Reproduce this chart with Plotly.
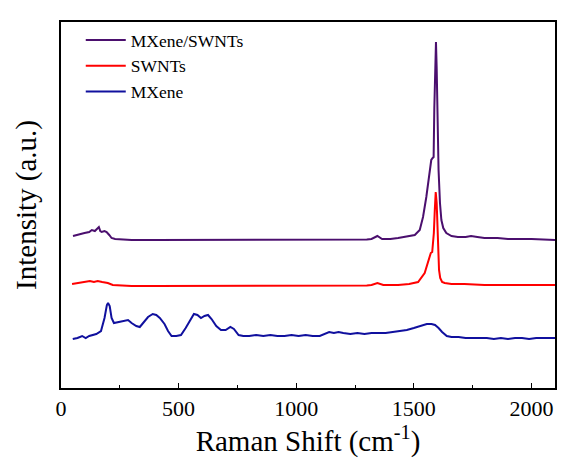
import plotly.graph_objects as go

# Raman shift (cm^-1) and intensities (a.u., stacked with offsets as in the figure)
mx_sw_x = [51, 65, 80, 100, 120, 131, 144, 153, 161, 167, 173, 185, 194, 205, 215, 230, 260, 300,
           400, 500, 600, 700, 800, 900, 1000, 1100, 1200, 1300, 1320, 1345, 1365, 1400, 1433, 1504,
           1525, 1539, 1553, 1567, 1574, 1580, 1584, 1587, 1590, 1594, 1597, 1600, 1605, 1611, 1617,
           1625, 1638, 1660, 1687, 1720, 1743, 1770, 1800, 1856, 1900, 2000, 2100]
mx_sw_y = [152, 153, 154, 155, 156, 158, 157, 159, 161, 157, 156, 157, 156, 153, 150, 149, 148.5, 148,
           148, 148, 148, 148, 148, 148, 148, 148, 148, 148.5, 149, 152, 149, 149, 150, 153,
           158, 171, 191, 218, 228, 230, 231, 280, 330, 346, 320, 268, 218, 185, 168,
           160, 155, 152, 151, 151, 152, 151, 150, 150, 149, 149, 148]

sw_x = [47, 70, 100, 123, 140, 156, 175, 199, 220, 260, 300, 400, 600, 800, 1000, 1200, 1300, 1320,
        1345, 1370, 1400, 1433, 1480, 1518, 1546, 1563, 1572, 1578, 1585, 1589, 1593, 1597, 1600,
        1603, 1607, 1612, 1620, 1631, 1660, 1715, 1800, 1900, 2000, 2100]
sw_y = [104, 105, 106, 107, 106, 107, 106, 105, 103, 102.5, 102, 102, 102, 102, 102, 102, 102.5, 103,
        105, 103, 103, 103, 104, 106, 115, 128, 135, 136, 155, 178, 196, 185, 160,
        130, 118, 110, 106, 105, 104, 104, 103, 103, 103, 103]

mx_x = [50, 70, 90, 105, 120, 150, 170, 185, 195, 200, 207, 215, 225, 245, 270, 285, 300, 320, 335,
        350, 370, 390, 405, 420, 440, 455, 470, 490, 510, 530, 550, 565, 580, 595, 610, 625, 640,
        660, 680, 700, 720, 735, 755, 775, 800, 830, 860, 890, 920, 950, 980, 1010, 1040, 1070,
        1100, 1120, 1140, 1160, 1180, 1200, 1230, 1260, 1290, 1320, 1350, 1380, 1410, 1440, 1470,
        1500, 1530, 1555, 1575, 1590, 1605, 1620, 1640, 1660, 1690, 1720, 1750, 1780, 1810, 1840,
        1870, 1900, 1930, 1960, 1990, 2020, 2060, 2100]
mx_y = [49, 50, 52, 50, 52, 54, 57, 70, 83, 85, 82, 70, 65, 66, 68, 68, 65, 62, 61,
        65, 71, 74, 73, 70, 64, 57, 52, 52, 53, 60, 68, 74, 73, 70, 72, 73, 69,
        62, 58, 58, 61, 59, 53, 52, 52, 53, 52, 53, 52, 52, 53, 52, 53, 52,
        52, 54, 56, 55, 56, 55, 54, 55, 54, 55, 55, 55, 56, 57, 58,
        60, 62, 64, 64, 63, 60, 56, 52, 51, 51, 50, 50, 50, 50, 49,
        50, 49, 50, 50, 49, 50, 50, 50]

x_tick_vals = [0, 500, 1000, 1500, 2000]
x_tick_text = ["0", "500", "1000", "1500", "2000"]

FONT = "Times New Roman, Tinos, Liberation Serif, DejaVu Serif, serif"

fig = go.Figure()
fig.add_trace(go.Scatter(x=mx_sw_x, y=mx_sw_y, mode="lines", name="MXene/SWNTs",
                         line=dict(color="#4b0f6e", width=2)))
fig.add_trace(go.Scatter(x=sw_x, y=sw_y, mode="lines", name="SWNTs",
                         line=dict(color="#ff0000", width=2)))
fig.add_trace(go.Scatter(x=mx_x, y=mx_y, mode="lines", name="MXene",
                         line=dict(color="#10109e", width=2)))

fig.update_layout(
    width=561, height=459,
    margin=dict(l=61, r=4, t=22, b=71),
    paper_bgcolor="white", plot_bgcolor="white",
    font=dict(family=FONT, color="black"),
    showlegend=True,
    legend=dict(x=0.04, y=1.0, xanchor="left", yanchor="top",
                font=dict(family=FONT, size=17.5, color="black"),
                bgcolor="rgba(0,0,0,0)", itemwidth=40, tracegroupgap=0),
    xaxis=dict(range=[0, 2100], tickvals=x_tick_vals, ticktext=x_tick_text,
               ticks="inside", ticklen=5, tickwidth=1.2, tickcolor="black",
               minor=dict(dtick=250, tick0=0, ticks="inside", ticklen=3, tickwidth=1.2, tickcolor="black"),
               showline=True, linecolor="black", linewidth=1.5, mirror=True,
               showgrid=False, zeroline=False,
               tickfont=dict(family=FONT, size=22, color="black"),
               title=dict(text="Raman Shift (cm<sup>-1</sup>)", font=dict(family=FONT, size=29, color="black"),
                          standoff=4)),
    yaxis=dict(range=[0, 366], showticklabels=False, ticks="",
               showline=True, linecolor="black", linewidth=1.5, mirror=True,
               showgrid=False, zeroline=False,
               title=dict(text="Intensity (a.u.)", font=dict(family=FONT, size=29, color="black"),
                          standoff=14)),
)

fig.write_html("out.html")
